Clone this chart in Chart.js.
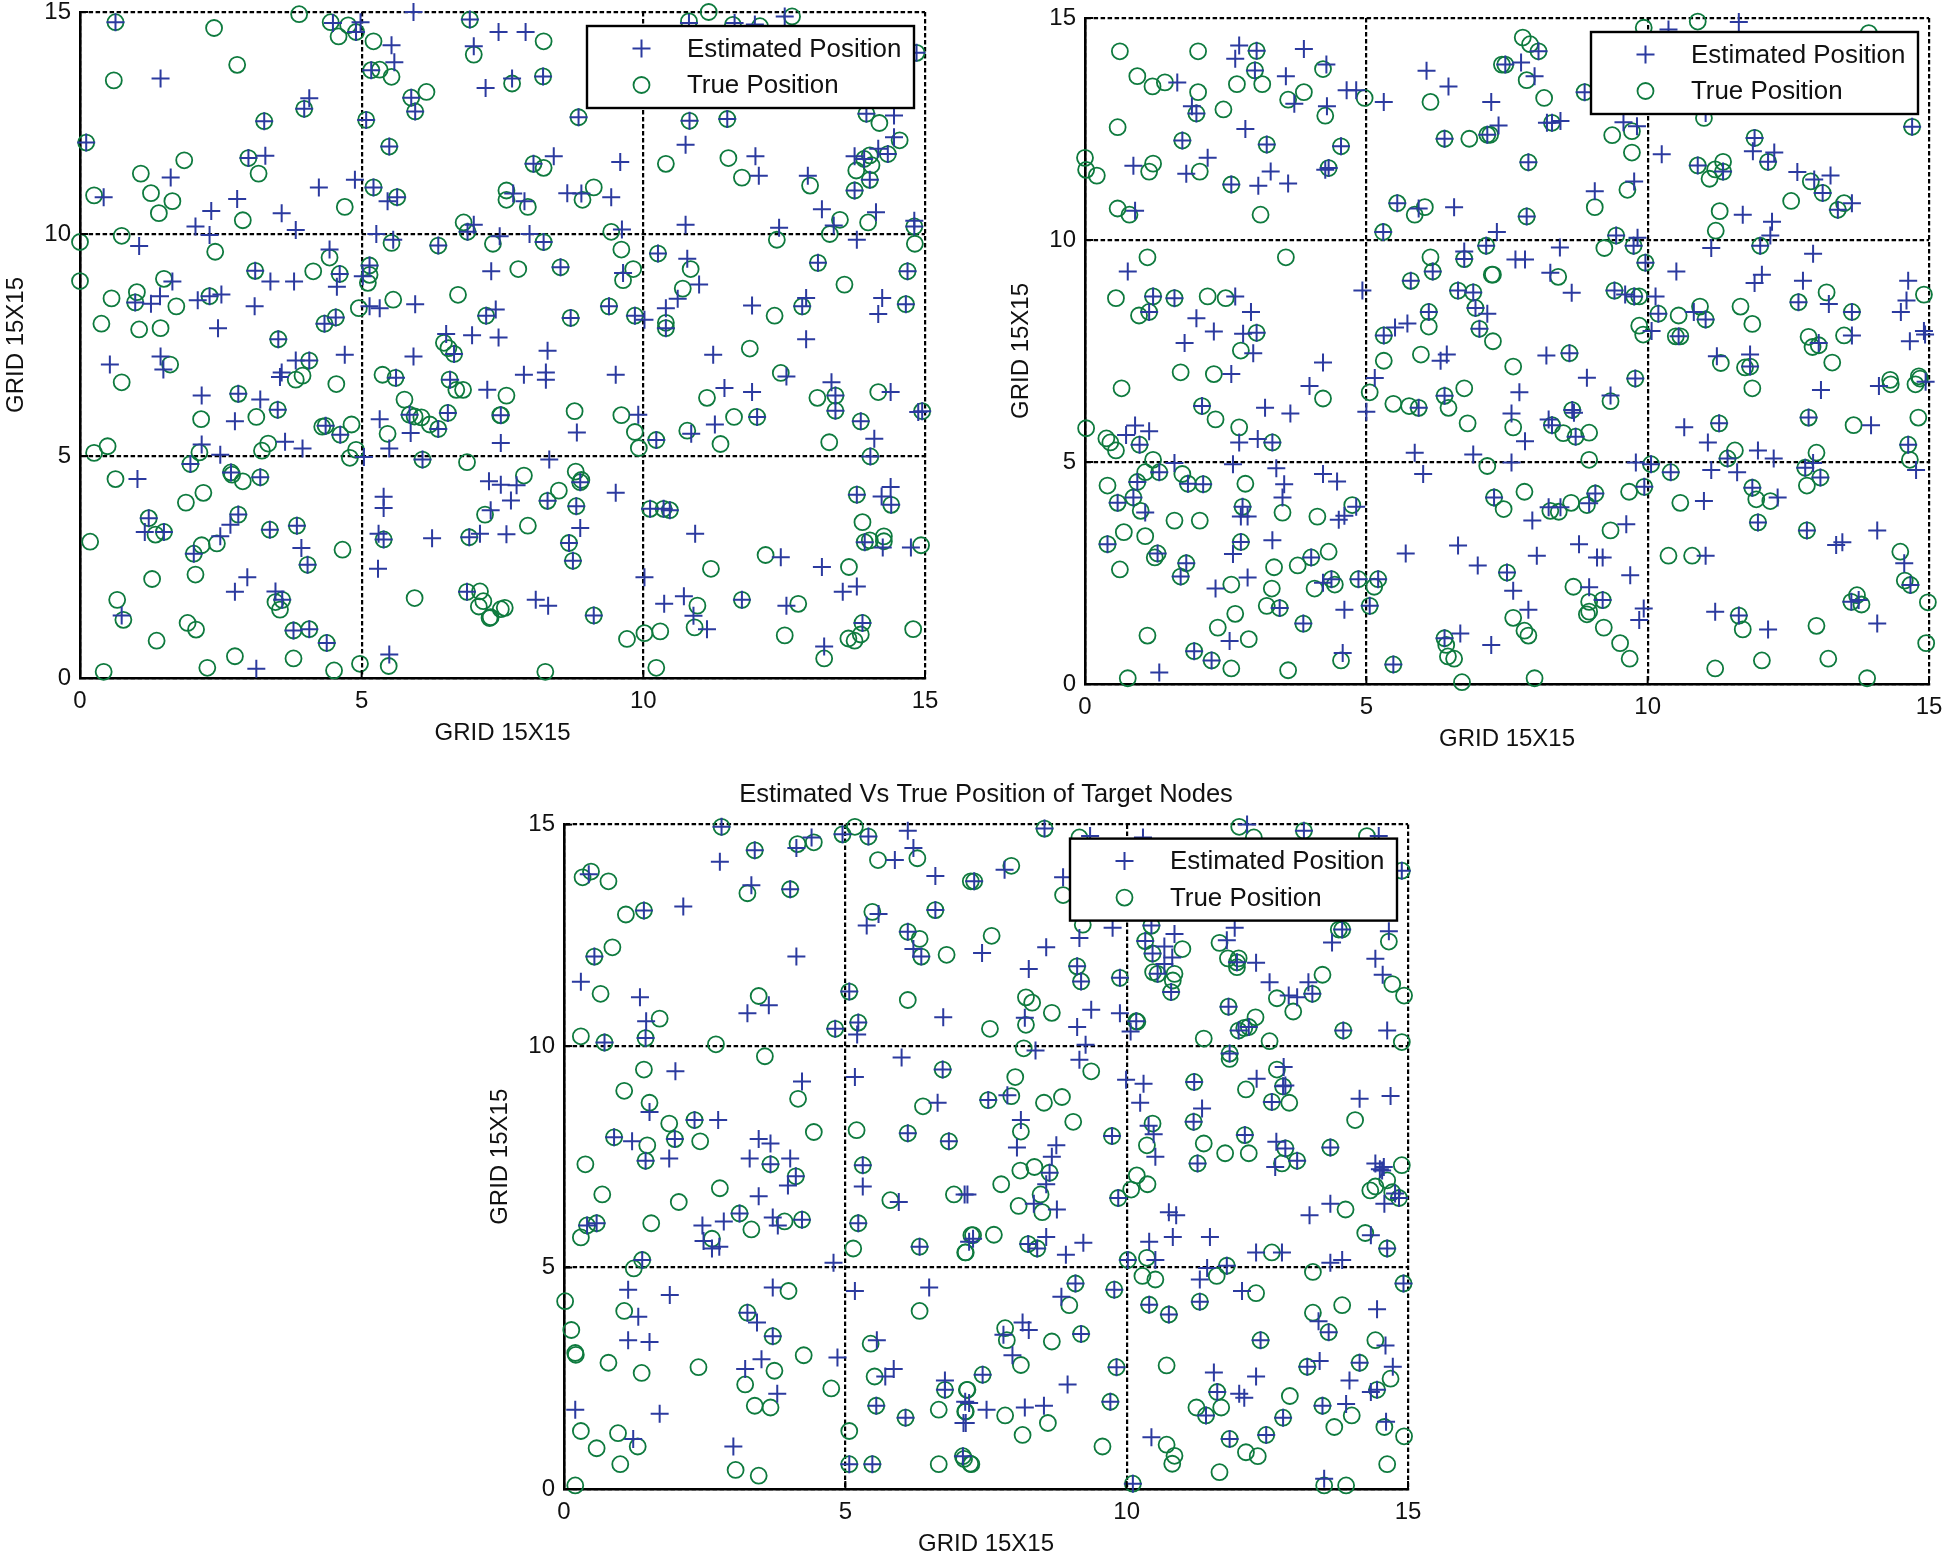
<!DOCTYPE html>
<html><head><meta charset="utf-8"><title>Estimated Vs True Position of Target Nodes</title>
<script src="https://cdn.jsdelivr.net/npm/chart.js@4"></script>
<style>
html,body{margin:0;padding:0;background:#fff;width:1945px;height:1556px;overflow:hidden}
.panel{position:absolute}
canvas{display:block}
</style></head><body>
<div class="panel" style="left:0;top:0;width:960px;height:750px"><canvas id="c1"></canvas></div>
<div class="panel" style="left:1005px;top:0;width:940px;height:756px"><canvas id="c2"></canvas></div>
<div class="panel" style="left:484px;top:770px;width:960px;height:791px"><canvas id="c3"></canvas></div>
<script>
const seriesNames = ["Estimated Position", "True Position"];
const axisTicks = [0, 5, 10, 15];
const axisLabel = "GRID 15X15";
const lowerTitle = "Estimated Vs True Position of Target Nodes";

const panel1Estimated = [[0.63,14.77],[3.27,12.54],[0.11,12.06],[2.99,11.71],[5.08,12.57],[5.49,11.97],[5.88,13.07],[5.95,12.76],[5.17,13.69],[6.92,14.83],[6.99,14.23],[3.98,12.82],[4.07,13.06],[5.21,11.05],[5.63,10.83],[5.46,10.74],[5.56,9.87],[6.36,9.74],[3.11,9.17],[2.30,8.60],[0.98,8.46],[3.52,7.63],[4.07,7.15],[4.54,8.12],[4.34,7.98],[5.14,9.29],[5.02,9.05],[4.61,9.10],[4.43,9.65],[5.14,8.37],[5.32,8.33],[5.95,8.42],[7.30,9.16],[7.38,8.30],[7.21,8.16],[6.50,7.75],[6.96,7.72],[7.43,7.67],[6.64,7.30],[4.70,7.28],[5.92,7.24],[5.61,6.76],[6.57,6.72],[4.49,14.75],[4.90,14.55],[4.98,14.77],[5.53,14.25],[5.58,13.87],[5.92,15],[7.20,13.29],[7.43,14.55],[1.43,13.50],[3.29,11.76],[1.61,11.27],[0.42,10.83],[2.33,10.52],[2.79,10.79],[3.58,10.47],[4.24,11.05],[4.88,11.22],[2.05,10.17],[2.30,9.98],[3.83,10.09],[1.05,9.73],[5.26,10.0],[6.99,10.21],[6.88,10.05],[1.64,8.93],[3.38,8.93],[3.80,8.93],[4.56,8.81],[2.51,8.64],[1.42,8.60],[1.26,8.43],[2.09,8.51],[3.10,8.37],[2.45,7.88],[0.53,7.06],[1.43,7.24],[1.48,6.95],[3.58,6.88],[3.55,6.78],[3.83,7.15],
[2.16,6.36],[2.81,6.40],[3.20,6.27],[3.51,6.04],[5.85,5.93],[6.53,5.97],[7.23,6.49],[2.75,5.78],[5.32,5.83],[4.36,5.68],[4.62,5.48],[5.87,5.52],[6.36,5.61],[7.47,5.29],[2.16,5.26],[3.64,5.32],[3.95,5.17],[2.49,5.03],[1.96,4.82],[5.04,4.98],[5.49,5.17],[6.08,4.92],[1.02,4.48],[2.68,4.63],[3.20,4.52],[7.26,4.43],[7.47,4.35],[5.39,4.08],[5.39,3.83],[7.29,3.78],[2.81,3.68],[1.22,3.60],[2.67,3.45],[3.85,3.43],[3.37,3.34],[1.15,3.29],[1.49,3.29],[2.49,3.19],[2.02,2.80],[5.30,3.25],[5.39,3.12],[6.25,3.15],[6.91,3.17],[7.10,3.25],[3.93,2.93],[4.04,2.55],[5.29,2.46],[2.97,2.27],[2.75,1.94],[3.47,1.95],[6.87,1.94],[0.74,1.41],[3.59,1.76],[3.79,1.07],[4.07,1.10],[4.38,0.79],[3.13,0.21],[5.49,0.53],
[7.91,14.55],[7.67,13.5],[8.22,13.55],[8.85,12.63],[10.81,14.75],[12.51,14.9],[11.62,14.75],[11.98,14.72],[14.85,14.08],[10.82,12.55],[11.49,12.59],[10.75,12.01],[11.99,11.75],[12.05,11.31],[12.92,11.31],[13.96,12.71],[14.45,12.67],[14.45,12.18],[14.17,11.92],[13.75,11.75],[13.92,11.69],[14.34,11.80],[14.02,11.22],[13.75,10.98],[13.17,10.56],[14.13,10.49],[13.38,10.19],[12.41,10.14],[13.79,9.87],[14.81,10.17],[14.81,10.3],[10.75,10.21],[8.05,11.58],[8.41,11.75],[9.59,11.62],[7.69,10.91],[7.89,10.74],[8.65,10.92],[8.90,10.91],[9.43,10.83],[7.45,9.95],[7.98,10.0],[8.23,9.82],[9.62,10.10],[8.53,9.25],[9.64,9.12],[10.26,9.56],[10.78,9.44],[10.99,8.86],[10.61,8.54],[10.40,8.33],[13.10,9.35],[14.69,9.16],[12.89,8.56],[12.82,8.37],[11.93,8.39],[14.24,8.56],[14.17,8.20],[14.66,8.42],[8.71,8.11],[9.39,8.37],[9.85,8.16],[10.02,8.07],[10.40,7.88],[8.30,7.37],[11.24,7.28],[12.89,7.63],[12.54,6.79],[7.88,6.83],[8.27,6.88],[8.27,6.72],[9.51,6.83],
[7.47,5.92],[9.91,5.93],[8.82,5.53],[10.23,5.36],[11.44,6.53],[11.93,6.44],[13.34,6.66],[13.41,6.36],[13.41,6.02],[14.39,6.44],[13.86,5.78],[14.10,5.39],[14.03,4.99],[14.95,6.01],[14.88,5.99],[12.02,5.88],[11.27,5.71],[10.85,5.50],[8.33,4.92],[8.88,4.41],[7.75,4.34],[9.51,4.17],[8.30,3.99],[7.65,4.0],[8.81,3.87],[8.88,3.38],[7.57,3.24],[8.68,3.04],[8.75,2.64],[10.12,3.81],[10.36,3.81],[10.47,3.78],[10.92,3.25],[12.44,2.72],[13.17,2.5],[13.79,2.06],[13.54,1.94],[13.79,4.13],[14.39,4.30],[14.23,4.09],[14.40,3.90],[13.93,3.06],[14.25,2.94],[14.75,2.94],[10.02,2.27],[10.37,1.67],[10.72,1.84],[10.89,1.40],[11.13,1.10],[11.75,1.76],[12.54,1.63],[13.89,1.24],[13.21,0.71],[8.09,1.76],[8.31,1.63],[9.12,1.41]];

const panel1True = [[0.63,14.77],[3.27,12.54],[0.11,12.06],[2.99,11.71],[5.08,12.57],[5.49,11.97],[5.88,13.07],[5.95,12.76],[5.17,13.69],[6.92,14.83],[6.99,14.04],[3.98,12.82],[5.21,11.05],[5.63,10.83],[5.53,9.80],[6.36,9.74],[3.11,9.17],[2.30,8.60],[0.98,8.46],[3.52,7.63],[4.07,7.15],[4.54,8.12],[4.34,7.98],[5.14,9.29],[5.11,8.90],[5.14,9.08],[4.61,9.10],[4.43,9.47],[4.95,8.33],[5.56,8.52],[6.71,8.63],[7.21,8.16],[6.46,7.55],[6.54,7.43],[6.64,7.30],[5.37,6.83],[5.60,6.76],[6.56,6.72],[4.55,6.62],[2.38,14.64],[3.89,14.95],[4.45,14.77],[4.76,14.70],[4.59,14.45],[4.90,14.55],[5.21,14.34],[5.32,13.70],[5.53,13.54],[6.15,13.20],[2.79,13.81],[0.60,13.46],[3.17,11.36],[1.85,11.66],[1.08,11.36],[0.25,10.87],[1.26,10.92],[1.64,10.74],[1.40,10.47],[4.70,10.61],[2.89,10.31],[0.74,9.96],[0,9.82],[2.40,9.60],[6.81,10.26],[6.88,10.05],[7.33,9.78],[4.14,9.16],[0,8.94],[1.49,8.99],[1.01,8.69],[0.56,8.55],[1.71,8.37],[0.38,7.98],[1.05,7.85],[1.43,7.88],[1.60,7.06],[0.74,6.66],[3.83,6.72],[3.95,6.81],
[2.81,6.40],[3.51,6.04],[6.68,6.49],[6.80,6.49],[5.76,6.27],[2.15,5.83],[3.13,5.88],[5.85,5.93],[5.94,5.89],[6.06,5.87],[6.53,5.97],[6.21,5.71],[6.36,5.61],[7.46,5.92],[4.36,5.68],[4.30,5.66],[4.62,5.48],[4.82,5.71],[5.46,5.50],[2.12,5.08],[0.25,5.07],[0.49,5.22],[3.23,5.12],[3.34,5.28],[1.96,4.82],[4.79,4.96],[4.90,5.14],[6.08,4.92],[6.87,4.86],[0.63,4.48],[2.68,4.63],[2.70,4.58],[2.89,4.43],[3.20,4.52],[2.19,4.17],[1.88,3.95],[7.19,3.68],[2.81,3.68],[1.22,3.60],[3.85,3.43],[3.37,3.34],[1.34,3.23],[1.49,3.29],[2.43,3.03],[2.16,2.99],[2.02,2.80],[0.18,3.07],[5.39,3.12],[6.91,3.17],[4.66,2.89],[4.04,2.55],[2.05,2.33],[1.28,2.23],[5.94,1.80],[6.87,1.94],[7.10,1.95],[7.16,1.73],[7.08,1.61],[7.29,1.37],[7.47,1.55],[0.66,1.76],[0.77,1.31],[3.59,1.76],[3.47,1.71],[3.55,1.54],[1.91,1.24],[2.06,1.09],[1.36,0.84],[3.79,1.07],[4.07,1.10],[4.38,0.79],[2.75,0.49],[3.79,0.44],[2.26,0.23],[0.42,0.14],[4.51,0.17],[4.97,0.32],[5.48,0.27],
[8.23,14.34],[7.67,13.39],[8.22,13.55],[8.85,12.63],[11.16,15],[10.81,14.79],[12.64,14.9],[11.59,14.71],[12.07,14.68],[14.85,14.08],[10.82,12.55],[11.49,12.59],[10.40,11.58],[11.51,11.71],[11.75,11.27],[12.96,11.09],[13.96,12.71],[14.19,12.50],[14.55,12.11],[14.02,11.77],[13.92,11.69],[14.34,11.80],[14.05,11.55],[13.78,11.43],[14.02,11.22],[13.75,10.98],[13.99,10.26],[13.49,10.32],[12.37,9.87],[13.31,10.0],[14.81,10.17],[14.82,9.78],[8.05,11.58],[8.23,11.49],[7.57,10.98],[7.57,10.77],[7.95,10.61],[8.92,10.77],[9.12,11.05],[8.23,9.82],[9.43,10.05],[9.61,9.65],[7.78,9.21],[8.53,9.25],[9.82,9.21],[9.64,8.96],[10.26,9.56],[10.84,9.21],[10.70,8.77],[13.10,9.35],[13.57,8.86],[14.69,9.16],[12.82,8.37],[12.33,8.16],[14.66,8.42],[8.71,8.11],[9.39,8.37],[9.85,8.16],[10.40,8.0],[10.40,7.88],[11.89,7.42],[12.44,6.87],
[7.57,6.36],[7.47,5.92],[8.78,6.01],[9.61,5.92],[9.85,5.54],[9.92,5.18],[10.23,5.36],[11.13,6.31],[13.41,6.36],[13.09,6.31],[13.41,6.02],[14.17,6.44],[13.86,5.78],[13.30,5.31],[14.03,4.99],[14.95,6.01],[11.61,5.88],[12.02,5.88],[10.78,5.57],[11.37,5.27],[8.80,4.65],[8.88,4.41],[8.90,4.46],[7.88,4.56],[8.50,4.22],[8.30,3.99],[8.81,3.87],[7.95,3.43],[8.68,3.04],[8.75,2.64],[10.12,3.81],[10.36,3.81],[10.47,3.78],[11.20,2.46],[12.17,2.77],[13.65,2.5],[13.79,4.13],[14.40,3.90],[13.89,3.51],[13.93,3.06],[14.02,3.10],[14.27,3.19],[14.27,3.08],[14.93,2.99],[10.96,1.63],[10.91,1.14],[11.75,1.76],[12.75,1.67],[12.51,0.96],[13.89,1.24],[13.86,0.98],[13.64,0.89],[13.75,0.84],[13.21,0.44],[14.79,1.10],[7.54,1.58],[9.12,1.41],[7.27,1.35],[9.71,0.88],[10.02,1.01],[10.30,1.05],[10.23,0.23],[8.26,0.14]];

const panel2Estimated = [[2.74,14.38],[3.05,14.26],[2.67,14.08],[3.02,13.82],[3.89,14.30],[4.29,13.95],[1.64,13.55],[3.57,13.69],[3.72,13.07],[4.65,13.37],[4.82,13.37],[5.31,13.11],[6.07,13.81],[6.46,13.46],[7.22,13.11],[1.90,13.01],[1.98,12.85],[4.30,13.01],[2.85,12.50],[1.73,12.24],[3.23,12.15],[4.55,12.11],[6.39,12.28],[7.15,12.37],[7.35,12.58],[0.86,11.67],[2.18,11.85],[1.80,11.49],[2.60,11.25],[3.08,11.22],[3.30,11.54],[3.61,11.27],[4.33,11.62],[4.27,11.58],[0.89,10.66],[5.55,10.83],[5.93,10.71],[6.56,10.74],[5.30,10.18],[7.32,10.18],[7.13,9.87],[0.76,9.29],[1.21,8.73],[1.59,8.69],[2.67,8.73],[1.14,8.38],[2.95,8.38],[1.98,8.24],[2.29,7.94],[2.81,7.89],[3.05,7.91],[1.77,7.68],[2.99,7.45],[4.23,7.24],[2.60,6.98],[4.93,8.86],[6.74,9.74],[6.74,9.57],[6.18,9.29],[5.79,9.08],[6.63,8.86],[6.90,8.82],[6.94,8.47],[7.15,8.34],[6.11,8.38],[5.73,8.12],[5.51,8.03],[5.31,7.85],[7.01,8.0],[6.43,7.42],[6.32,7.28],[5.15,6.89],
[3.99,6.71],[5.0,6.13],[5.93,6.22],[6.39,6.49],[2.08,6.26],[3.20,6.22],[3.65,6.09],[0.89,5.82],[1.14,5.69],[0.73,5.61],[0.97,5.39],[2.74,5.44],[3.07,5.52],[3.33,5.44],[5.86,5.21],[6.90,5.17],[6.01,4.73],[1.59,4.98],[2.63,4.95],[3.40,4.86],[4.23,4.73],[4.48,4.56],[1.32,4.77],[1.83,4.51],[2.10,4.50],[3.54,4.50],[0.93,4.55],[0.86,4.20],[3.51,4.20],[0.58,4.08],[4.82,3.99],[1.07,3.86],[2.80,3.99],[2.89,3.77],[2.77,3.77],[4.61,3.79],[4.51,3.70],[0.40,3.15],[2.77,3.20],[3.33,3.24],[1.29,2.94],[1.80,2.72],[2.63,2.93],[4.02,2.85],[5.70,2.94],[6.63,3.12],[6.98,2.67],[1.70,2.42],[2.89,2.40],[4.38,2.36],[4.23,2.28],[4.86,2.36],[5.21,2.36],[2.32,2.15],[5.06,1.76],[3.46,1.71],[4.61,1.67],[3.88,1.36],[2.57,0.97],[1.94,0.74],[2.25,0.53],[4.58,0.70],[5.48,0.44],[1.32,0.26],[6.39,1.03],[6.67,1.14],[7.22,0.88],
[8.06,14.25],[7.75,14.0],[7.47,13.95],[7.99,13.69],[8.88,13.33],[8.30,12.64],[8.45,12.68],[8.21,12.64],[9.57,12.65],[9.81,12.56],[7.88,11.75],[9.06,11.10],[9.76,11.32],[7.85,10.53],[9.44,10.10],[9.82,10.05],[9.75,9.87],[8.44,9.83],[7.65,9.56],[7.82,9.56],[9.96,9.49],[8.27,9.26],[8.65,8.81],[9.41,8.86],[9.60,8.77],[9.76,8.73],[10.14,8.73],[10.25,11.93],[10.19,8.34],[10.82,8.38],[11.03,8.21],[10.07,7.95],[10.55,7.83],[10.51,9.29],[12.0,9.87],[11.13,9.82],[12.18,10.10],[12.21,10.41],[11.69,10.57],[10.89,11.68],[11.34,11.54],[11.87,12.0],[12.25,11.97],[11.90,12.30],[12.14,11.76],[12.66,11.53],[12.96,11.36],[13.25,11.45],[13.11,11.06],[13.63,10.83],[13.38,10.68],[14.70,12.55],[11.62,14.91],[10.37,14.74],[11.03,12.86],[12.94,9.69],[12.03,9.22],[11.90,9.03],[12.76,9.08],[12.68,8.60],[13.22,8.56],[13.63,8.38],[14.63,9.08],[14.60,8.64],[14.50,8.38],[13.04,7.68],[13.63,7.85],[14.66,7.72],[14.91,7.95],[14.93,7.87],[8.20,7.40],[8.61,7.45],[8.92,6.90],[9.78,6.88],[11.23,7.38],[11.82,7.42],[11.82,7.15],
[13.08,6.62],[14.11,6.71],[14.94,6.81],[13.97,5.83],[12.86,6.0],[11.27,5.87],[10.65,5.78],[11.07,5.44],[11.42,5.08],[11.96,5.26],[12.24,5.08],[12.94,4.98],[12.80,4.87],[13.07,4.65],[14.63,5.39],[14.77,4.82],[10.06,4.95],[10.41,4.77],[11.13,4.82],[11.59,4.77],[11.86,4.42],[12.31,4.20],[11.0,4.12],[11.96,3.64],[12.83,3.46],[14.08,3.46],[13.35,3.13],[13.46,3.19],[14.56,2.72],[11.03,2.89],[14.67,2.23],[13.62,1.85],[13.75,1.89],[11.20,1.63],[11.62,1.54],[12.14,1.23],[14.08,1.36],[9.93,1.70],[9.85,1.44],[7.72,6.57],[7.58,6.09],[7.82,5.47],[7.58,4.99],[8.66,6.17],[8.69,6.11],[9.34,6.50],[8.24,5.96],[8.30,5.83],[8.72,5.57],[9.79,4.99],[9.94,4.44],[9.07,4.29],[8.96,4.07],[7.27,4.20],[8.24,3.98],[8.45,3.98],[7.95,3.68],[9.62,3.60],[8.78,3.15],[9.10,2.85],[9.20,2.85],[8.03,2.89],[9.69,2.45],[7.50,2.51],[7.61,2.10],[8.96,2.18],[9.20,1.89],[7.88,1.67]];

const panel2True = [[0.62,14.25],[2.01,14.25],[3.05,14.26],[3.02,13.82],[4.23,13.85],[0.93,13.69],[1.20,13.46],[1.42,13.55],[2.01,13.33],[2.70,13.51],[3.15,13.51],[3.89,13.33],[3.61,13.16],[4.97,13.20],[6.14,13.11],[7.41,13.95],[1.98,12.85],[2.46,12.94],[4.27,12.80],[0.58,12.54],[1.73,12.24],[3.23,12.15],[4.55,12.11],[6.39,12.28],[6.83,12.28],[7.15,12.37],[0,11.85],[0.02,11.58],[0.21,11.45],[1.21,11.72],[1.14,11.54],[2.04,11.54],[2.60,11.25],[4.33,11.62],[0.58,10.71],[0.79,10.57],[3.12,10.57],[5.55,10.83],[5.86,10.57],[6.04,10.74],[5.30,10.18],[7.13,9.87],[1.11,9.61],[3.57,9.61],[0.55,8.69],[1.21,8.73],[1.59,8.69],[2.18,8.73],[2.50,8.69],[1.14,8.38],[0.96,8.30],[3.05,7.91],[2.77,7.51],[1.70,7.02],[2.29,6.98],[6.14,9.61],[6.74,9.57],[6.18,9.29],[5.79,9.08],[6.63,8.86],[6.90,8.82],[7.25,9.22],[6.94,8.47],[6.11,8.38],[6.11,8.05],[5.31,7.85],[7.01,8.0],[7.25,7.72],[5.97,7.42],[5.31,7.28],
[0.65,6.66],[4.23,6.43],[5.06,6.57],[5.48,6.31],[5.76,6.26],[5.93,6.22],[6.39,6.49],[6.74,6.66],[6.46,6.22],[6.80,5.87],[2.08,6.26],[2.32,5.96],[2.74,5.78],[0.02,5.76],[0.38,5.53],[0.45,5.44],[0.55,5.26],[0.97,5.39],[3.33,5.44],[7.15,4.91],[1.21,5.05],[1.32,4.77],[1.07,4.77],[1.73,4.73],[1.83,4.51],[2.10,4.50],[2.85,4.51],[0.93,4.55],[0.40,4.47],[0.86,4.20],[0.58,4.08],[4.75,4.03],[0.99,3.90],[2.80,3.99],[3.51,3.86],[4.13,3.77],[1.59,3.68],[2.04,3.68],[0.69,3.42],[1.07,3.33],[0.40,3.15],[2.77,3.20],[1.29,2.94],[1.24,2.85],[1.80,2.72],[4.02,2.85],[4.33,2.98],[3.78,2.67],[3.36,2.63],[0.62,2.58],[1.70,2.42],[4.38,2.36],[4.44,2.24],[4.08,2.15],[4.86,2.36],[5.21,2.36],[5.14,2.19],[2.60,2.24],[3.32,2.15],[5.06,1.76],[3.46,1.71],[3.23,1.76],[2.67,1.58],[3.88,1.36],[2.36,1.27],[1.11,1.09],[2.91,1.01],[1.94,0.74],[2.25,0.53],[2.60,0.35],[3.61,0.31],[4.55,0.53],[5.48,0.44],[0.76,0.13],[6.39,1.03],[6.42,0.88],[6.45,0.62],[6.56,0.57],[6.70,0.04],
[7.78,14.56],[7.91,14.41],[8.06,14.25],[7.47,13.95],[7.85,13.60],[8.16,13.20],[8.88,13.33],[7.20,12.37],[8.30,12.64],[9.37,12.36],[9.72,12.45],[9.72,11.97],[7.88,11.75],[9.06,10.74],[9.64,11.13],[7.85,10.53],[9.44,10.10],[9.23,9.82],[9.75,9.87],[9.96,9.49],[8.41,9.17],[7.23,9.22],[9.41,8.86],[9.76,8.73],[9.85,8.73],[10.19,8.34],[10.55,8.30],[10.93,8.50],[11.03,8.21],[9.85,8.07],[9.92,7.87],[10.50,7.83],[10.58,7.83],[11.65,8.50],[11.86,8.11],[12.0,9.87],[11.21,10.21],[11.28,10.65],[10.89,11.68],[11.34,11.76],[11.20,11.59],[11.34,11.54],[11.10,11.38],[11.90,12.30],[12.14,11.76],[12.90,11.32],[13.11,11.06],[12.55,10.88],[13.49,10.83],[13.38,10.68],[14.70,12.55],[10.89,14.92],[9.93,14.78],[13.93,14.66],[11.0,12.75],[12.68,8.60],[13.18,8.82],[13.63,8.38],[14.91,8.77],[12.86,7.82],[12.93,7.59],[13.04,7.63],[13.49,7.85],[13.28,7.24],[8.61,7.45],[7.61,7.15],[9.78,6.88],[11.30,7.23],[11.82,7.15],[11.73,7.13],[14.31,6.85],[14.82,6.93],
[11.86,6.66],[14.32,6.75],[14.76,6.75],[14.84,6.88],[14.81,6.0],[13.66,5.83],[12.86,6.0],[11.27,5.87],[11.55,5.26],[11.42,5.08],[13.0,5.21],[12.80,4.87],[13.07,4.65],[12.83,4.47],[14.63,5.39],[14.66,5.05],[10.06,4.95],[10.41,4.77],[11.86,4.42],[11.93,4.16],[12.18,4.12],[10.58,4.08],[11.96,3.64],[12.83,3.46],[14.49,2.98],[10.79,2.89],[10.37,2.89],[14.57,2.33],[14.67,2.23],[14.98,1.84],[13.72,2.0],[13.62,1.85],[13.80,1.79],[11.62,1.54],[11.69,1.23],[13.0,1.31],[14.95,0.92],[12.03,0.53],[13.21,0.57],[11.20,0.35],[13.90,0.13],[9.22,1.27],[9.51,0.92],[9.68,0.57],[7.99,0.13],[7.61,5.78],[8.66,6.17],[9.34,6.37],[8.30,5.83],[8.50,5.65],[8.72,5.57],[8.96,5.66],[8.96,5.05],[9.94,4.44],[9.67,4.33],[9.07,4.29],[8.92,4.03],[8.64,4.08],[7.81,4.33],[7.27,4.20],[7.44,3.94],[8.27,3.90],[8.42,3.88],[9.34,3.46],[7.50,2.51],[8.68,2.19],[9.20,1.89],[8.96,1.85],[8.96,1.63],[8.92,1.57],[7.61,1.49],[7.81,1.20],[7.88,1.09]];

const panel3Estimated = [[2.80,14.95],[4.95,14.78],[5.41,14.73],[6.11,14.86],[6.21,14.47],[5.88,14.20],[6.60,13.84],[0.44,13.88],[2.77,14.16],[3.39,14.42],[4.13,14.47],[4.40,14.71],[3.33,13.63],[4.02,13.54],[2.12,13.15],[1.42,13.06],[5.59,12.98],[5.38,12.72],[6.60,13.07],[6.11,12.58],[6.21,12.19],[6.35,12.02],[0.54,12.02],[4.13,12.02],[0.30,11.45],[1.35,11.10],[5.07,11.23],[1.46,10.56],[3.64,10.92],[3.26,10.74],[6.74,10.65],[5.23,10.53],[4.82,10.39],[5.21,10.26],[0.72,10.08],[1.45,10.18],[6.0,9.74],[6.73,9.47],[1.98,9.43],[5.17,9.30],[4.23,9.20],[6.64,8.72],[1.52,8.51],[2.32,8.33],[2.74,8.33],[6.11,8.03],[0.89,7.94],[1.21,7.85],[1.97,7.90],[3.46,7.90],[3.67,7.80],[6.84,7.85],[1.45,7.41],[1.87,7.46],[3.30,7.46],[3.67,7.33],[4.02,7.46],[5.31,7.31],
[4.12,7.06],[3.98,6.85],[3.46,6.61],[5.31,6.83],[5.95,6.48],[7.17,6.65],[3.12,6.22],[2.84,6.04],[2.46,5.95],[3.71,6.13],[3.80,5.95],[4.23,6.08],[5.23,6.0],[0.41,5.95],[0.58,6.0],[2.48,5.60],[2.63,5.43],[2.76,5.47],[6.32,5.47],[7.20,5.58],[1.39,5.17],[4.79,5.11],[1.14,4.50],[3.71,4.55],[1.88,4.38],[5.17,4.47],[6.49,4.55],[1.32,3.89],[3.26,3.98],[3.43,3.76],[3.71,3.45],[1.14,3.36],[1.52,3.32],[5.56,3.36],[4.86,2.97],[3.51,2.93],[3.22,2.71],[5.86,2.71],[5.71,2.54],[6.77,2.45],[6.77,2.24],[3.79,2.15],[0.20,1.79],[5.55,1.88],[1.70,1.70],[6.07,1.61],[7.20,1.94],[7.14,1.49],[1.23,1.13],[3.01,0.96],[5.07,0.56],[5.48,0.56],[7.09,0.74],
[8.54,14.91],[7.29,13.72],[7.83,13.98],[8.87,13.81],[9.75,12.67],[9.16,12.44],[7.43,12.10],[8.57,12.23],[8.26,11.74],[9.12,11.80],[9.19,11.46],[9.88,11.54],[9.37,10.82],[9.88,10.74],[10.17,10.56],[8.19,10.64],[9.12,10.43],[10.07,10.33],[8.38,9.90],[9.27,10.03],[9.16,9.69],[7.54,8.78],[7.88,8.89],[9.99,9.24],[10.30,9.15],[10.24,8.72],[8.12,8.33],[9.74,7.97],[8.75,7.76],[8.05,7.71],[8.67,7.50],[9.35,14.74],[12.14,15],[13.15,14.86],[14.48,14.74],[10.29,14.71],[14.89,13.96],[10.44,12.72],[10.85,12.53],[11.92,12.67],[11.78,12.39],[13.83,12.63],[13.65,12.34],[14.66,12.59],[10.33,12.37],[10.46,12.09],[10.67,12.25],[10.81,12.0],[10.67,11.85],[10.55,11.63],[10.79,11.22],[11.96,11.89],[12.30,11.88],[12.54,11.44],[13.23,11.44],[13.30,11.18],[12.88,11.14],[13.03,11.10],[14.42,11.97],[14.55,11.61],[11.81,10.89],[12.17,10.43],[11.99,10.35],[13.85,10.35],[14.63,10.35],[11.83,9.83],[12.79,9.53],[12.31,9.26],[12.78,9.09],[12.82,9.11],[14.14,8.81],[14.69,8.87],[12.58,8.74],[11.20,9.19],[11.34,8.59],[11.19,8.29],[10.39,8.20],[10.48,8.01],[10.51,7.50],[12.10,7.99],[12.66,7.84],[12.82,7.69],[13.03,7.41],[13.62,7.71],[11.26,7.35],[12.64,7.27],[14.42,7.35],[14.57,7.27],
[8.63,7.14],[8.57,6.88],[7.12,6.65],[8.35,6.44],[8.76,6.31],[9.85,6.57],[7.27,5.65],[8.25,5.53],[8.41,5.43],[8.57,5.69],[8.92,5.29],[9.23,5.56],[14.50,7.22],[14.54,7.19],[14.84,6.57],[14.58,6.44],[14.77,6.67],[10.75,6.25],[10.88,6.18],[10.40,5.58],[10.82,5.69],[11.48,5.69],[13.25,6.18],[13.62,6.44],[14.34,5.73],[14.63,5.43],[10.02,5.17],[10.51,5.17],[11.78,5.04],[11.43,4.99],[11.30,4.73],[12.30,5.34],[12.76,5.34],[13.62,5.11],[13.83,5.17],[14.92,4.64],[9.09,4.64],[9.78,4.50],[8.84,4.34],[12.05,4.47],[11.30,4.23],[10.40,4.16],[10.75,3.94],[14.45,4.06],[13.41,3.79],[13.59,3.54],[8.15,3.76],[8.26,3.59],[7.81,3.48],[9.19,3.50],[7.97,3.02],[12.38,3.36],[14.60,3.24],[9.82,2.75],[11.55,2.63],[12.30,2.54],[13.21,2.76],[13.43,2.89],[14.14,2.85],[14.73,2.76],[13.96,2.45],[7.44,2.58],[8.95,2.36],[7.13,1.97],[7.51,1.79],[8.19,1.84],[8.53,1.88],[9.71,1.97],[7.10,1.49],[11.61,2.19],[12.0,2.15],[12.09,2.06],[11.41,1.66],[12.78,1.61],[13.48,1.88],[13.90,1.92],[14.45,2.24],[14.34,2.19],[14.61,1.52],[11.83,1.13],[12.48,1.22],[10.44,1.17],[10.11,0.12],[13.51,0.23]];

const panel3True = [[2.80,14.95],[5.17,14.95],[4.95,14.78],[5.41,14.73],[6.28,14.24],[5.58,14.20],[7.23,13.72],[0.48,13.94],[0.33,13.81],[0.79,13.72],[3.39,14.42],[4.15,14.56],[4.44,14.60],[3.26,13.45],[4.02,13.54],[1.42,13.06],[1.10,12.97],[5.48,13.03],[6.60,13.07],[6.11,12.58],[6.32,12.42],[6.35,12.02],[6.80,12.06],[0.86,12.23],[0.54,12.02],[0.65,11.18],[5.07,11.23],[6.11,11.04],[1.70,10.62],[3.46,11.13],[5.23,10.53],[4.82,10.39],[0.30,10.22],[0.72,10.08],[1.45,10.18],[2.70,10.04],[3.57,9.77],[6.73,9.47],[1.42,9.47],[1.07,8.99],[4.16,8.81],[6.38,8.64],[1.52,8.72],[1.87,8.25],[2.32,8.33],[4.44,8.06],[5.20,8.10],[6.11,8.03],[0.89,7.94],[1.48,7.76],[1.97,7.90],[2.42,7.85],[6.84,7.85],[0.38,7.33],[1.45,7.41],[3.67,7.33],[5.31,7.31],
[4.12,7.06],[2.77,6.79],[0.68,6.65],[2.04,6.48],[5.80,6.52],[6.93,6.65],[3.12,6.22],[1.55,6.0],[3.33,5.86],[3.92,6.04],[4.23,6.08],[5.23,6.0],[0.41,5.95],[0.58,6.0],[0.30,5.68],[2.63,5.65],[6.32,5.47],[5.14,5.43],[7.24,5.73],[7.14,5.34],[1.39,5.17],[1.24,4.98],[3.99,4.47],[0.02,4.24],[1.07,4.02],[3.26,3.98],[6.32,4.02],[0.13,3.59],[3.71,3.45],[5.45,3.28],[0.20,3.07],[0.21,3.03],[4.26,3.02],[0.79,2.85],[3.74,2.67],[2.39,2.75],[1.38,2.62],[5.52,2.54],[6.77,2.24],[7.17,2.24],[3.22,2.36],[4.75,2.27],[3.39,1.88],[3.67,1.84],[5.55,1.88],[6.07,1.61],[6.66,1.79],[7.14,1.75],[0.30,1.31],[0.96,1.26],[5.07,1.31],[1.31,0.96],[0.58,0.92],[1.0,0.56],[5.07,0.56],[5.48,0.56],[6.66,0.56],[7.09,0.74],[7.24,0.56],[3.05,0.43],[3.46,0.30],[0.20,0.08],
[8.54,14.91],[7.29,13.72],[7.95,14.07],[8.87,13.41],[9.22,12.74],[7.60,12.49],[9.12,11.80],[9.19,11.46],[9.88,11.54],[8.21,11.10],[8.32,10.98],[8.67,10.75],[10.17,10.56],[10.19,10.55],[8.21,10.48],[7.57,10.39],[8.17,9.95],[9.37,9.43],[8.02,9.30],[7.54,8.78],[7.95,8.87],[8.53,8.72],[8.85,8.85],[9.05,8.29],[8.12,8.07],[9.74,7.97],[9.16,14.71],[12.0,14.95],[13.15,14.86],[12.26,14.71],[14.27,14.74],[14.89,13.96],[10.44,12.72],[11.65,12.33],[13.83,12.63],[13.77,12.63],[14.66,12.36],[10.33,12.37],[10.46,12.09],[10.99,12.19],[10.47,11.67],[10.55,11.63],[10.85,11.63],[10.82,11.48],[10.79,11.22],[11.80,11.98],[11.96,11.89],[11.99,11.98],[11.96,11.78],[13.30,11.18],[13.48,11.61],[12.67,11.08],[12.96,10.78],[14.72,11.40],[14.93,11.14],[11.81,10.89],[12.29,10.65],[12.17,10.43],[11.99,10.35],[12.09,10.41],[13.85,10.35],[14.89,10.09],[11.37,10.17],[12.54,10.11],[11.83,9.83],[11.83,9.71],[12.67,9.47],[12.12,9.02],[12.78,9.09],[12.89,8.72],[12.58,8.74],[11.20,9.19],[11.19,8.29],[10.46,8.25],[10.36,7.76],[11.37,7.80],[11.75,7.58],[12.10,7.99],[12.17,7.58],[12.82,7.69],[13.03,7.41],[13.62,7.71],[14.06,8.33],[11.26,7.35],[12.76,7.35],[14.89,7.31],
[8.63,7.14],[8.36,7.27],[8.11,7.19],[7.77,6.88],[8.47,6.65],[8.08,6.39],[8.50,6.25],[9.85,6.57],[10.18,7.08],[10.08,6.76],[10.37,6.88],[7.27,5.73],[7.64,5.74],[7.13,5.34],[8.25,5.53],[8.41,5.43],[14.63,6.97],[14.33,6.74],[14.42,6.83],[14.72,6.70],[14.84,6.57],[13.89,6.31],[14.24,5.78],[14.63,5.43],[10.02,5.17],[10.36,5.22],[10.28,4.81],[10.51,4.73],[11.78,5.04],[11.60,4.81],[12.58,5.34],[13.31,4.90],[14.92,4.64],[9.09,4.64],[9.78,4.50],[8.98,4.15],[12.30,4.42],[11.30,4.23],[10.40,4.16],[10.75,3.94],[13.83,4.15],[13.31,3.98],[13.59,3.54],[7.84,3.63],[7.87,3.36],[8.67,3.33],[9.19,3.50],[8.12,2.80],[12.38,3.36],[14.42,3.36],[9.82,2.75],[10.71,2.79],[13.21,2.76],[14.14,2.85],[14.69,2.49],[7.44,2.58],[7.16,2.24],[7.13,1.75],[7.84,1.66],[8.60,1.49],[8.15,1.22],[9.71,1.97],[9.57,0.96],[11.61,2.19],[12.90,2.10],[11.24,1.84],[11.68,1.84],[11.41,1.66],[12.78,1.61],[13.48,1.88],[14.0,1.66],[14.45,2.24],[13.69,1.40],[14.58,1.40],[14.93,1.19],[11.83,1.13],[12.48,1.22],[10.71,1.0],[10.85,0.75],[10.81,0.57],[12.12,0.83],[12.33,0.74],[11.65,0.38],[14.63,0.56],[10.11,0.12],[13.51,0.08],[13.90,0.08],[7.22,0.57],[7.11,0.68]];

const estColor = "#2b3a9f", trueColor = "#0e7a3e", inkColor = "#111111";
const fontFamily = "'Liberation Sans', Arial, sans-serif";

const toPoints = list => list.map(p => ({x: p[0], y: p[1]}));

const matlabLook = {
  id: "matlabLook",
  afterDatasetsDraw(chart) {
    const {ctx, chartArea: a, scales} = chart;
    ctx.save();
    // short solid inner ticks
    ctx.strokeStyle = "#000"; ctx.lineWidth = 2; ctx.setLineDash([]);
    axisTicks.forEach(v => {
      const px = scales.x.getPixelForValue(v), py = scales.y.getPixelForValue(v);
      ctx.beginPath(); ctx.moveTo(px, a.bottom); ctx.lineTo(px, a.bottom - 8); ctx.stroke();
      ctx.beginPath(); ctx.moveTo(a.left, py); ctx.lineTo(a.left + 8, py); ctx.stroke();
    });
    // legend box
    const boxW = 327, boxH = 82, bx = a.right - 11 - boxW, by = a.top + 14;
    ctx.fillStyle = "#fff"; ctx.fillRect(bx, by, boxW, boxH);
    ctx.strokeStyle = "#000"; ctx.lineWidth = 2.4; ctx.strokeRect(bx, by, boxW, boxH);
    const mx = bx + 54.5, tx = bx + 100, r1 = by + 22.5, r2 = by + 59;
    ctx.strokeStyle = estColor; ctx.lineWidth = 2;
    ctx.beginPath(); ctx.moveTo(mx - 9, r1); ctx.lineTo(mx + 9, r1); ctx.moveTo(mx, r1 - 9); ctx.lineTo(mx, r1 + 9); ctx.stroke();
    ctx.strokeStyle = trueColor; ctx.lineWidth = 1.8;
    ctx.beginPath(); ctx.arc(mx, r2, 8, 0, Math.PI * 2); ctx.stroke();
    ctx.fillStyle = inkColor; ctx.font = "25.9px " + fontFamily; ctx.textBaseline = "middle"; ctx.textAlign = "left";
    ctx.fillText(seriesNames[0], tx, r1 + 1);
    ctx.fillText(seriesNames[1], tx, r2 + 1);
    ctx.restore();
  }
};

function axis(side, fixedSize, titlePad) {
  return {
    type: "linear", min: 0, max: 15,
    afterBuildTicks(s) { s.ticks = axisTicks.map(v => ({value: v})); },
    afterFit(s) {
      if (side === "x") s.height = fixedSize; else s.width = fixedSize;
      s.paddingLeft = s.paddingRight = s.paddingTop = s.paddingBottom = 0;
    },
    ticks: {color: inkColor, padding: 9, maxRotation: 0, font: {family: fontFamily, size: 24}, callback: v => String(v)},
    grid: {color: "#000", lineWidth: 2.2, drawTicks: false},
    border: {display: true, color: "#000", width: 2.6, dash: [4.5, 2.5]},
    title: {display: true, text: axisLabel, color: inkColor, font: {family: fontFamily, size: 24}, padding: titlePad}
  };
}

function makeChart(id, est, tru, opts) {
  new Chart(document.getElementById(id), {
    type: "scatter",
    data: {datasets: [
      {label: seriesNames[0], data: toPoints(est), pointStyle: "cross", pointRadius: 9, pointHoverRadius: 9,
       borderColor: estColor, backgroundColor: estColor, pointBorderWidth: 2, clip: false},
      {label: seriesNames[1], data: toPoints(tru), pointStyle: "circle", pointRadius: 8, pointHoverRadius: 8,
       borderColor: trueColor, backgroundColor: "rgba(0,0,0,0)", pointBorderWidth: 1.8, clip: false}
    ]},
    options: {
      responsive: true, maintainAspectRatio: false, animation: false,
      layout: {padding: {top: opts.top, right: opts.right, left: 0, bottom: 0}},
      plugins: {
        legend: {display: false}, tooltip: {enabled: false},
        title: opts.title ? {display: true, fullSize: false, text: opts.title, color: inkColor, font: {family: fontFamily, size: 25.5, weight: "normal"}, padding: {top: 9, bottom: 14}} : {display: false}
      },
      scales: {x: axis("x", opts.bottom, {top: 4, bottom: 2.5}), y: axis("y", 80, {top: 2, bottom: 2})}
    },
    plugins: [matlabLook]
  });
}

makeChart("c1", panel1Estimated, panel1True, {top: 12, right: 35, bottom: 72});
makeChart("c2", panel2Estimated, panel2True, {top: 18, right: 16, bottom: 72});
makeChart("c3", panel3Estimated, panel3True, {top: 1, right: 36, bottom: 72, title: lowerTitle});
</script>
</body></html>
